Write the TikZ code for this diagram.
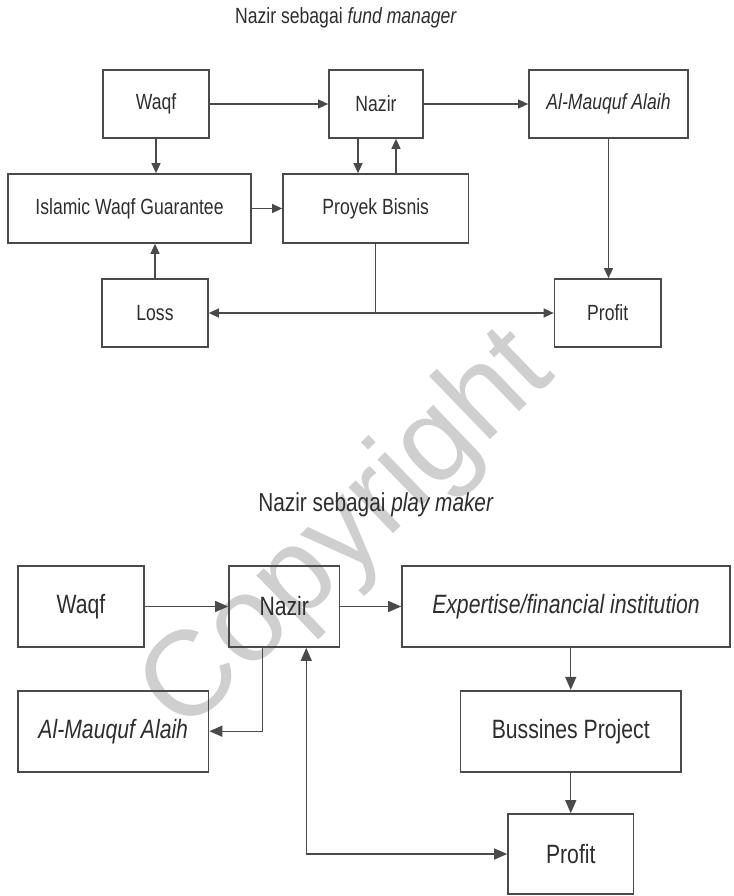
\documentclass[tikz,border=0pt]{standalone}
\usepackage{fontspec}
\setmainfont[FakeStretch=0.8]{Liberation Sans}
\newfontfamily\wmfont{Liberation Sans}
\usetikzlibrary{arrows.meta,calc}
\definecolor{linec}{HTML}{4A4A4A}
\definecolor{txtc}{HTML}{2E2E2E}
\definecolor{wmc}{HTML}{CFCFCF}
\begin{document}
\begin{tikzpicture}[x=1pt,y=-1pt,
  box/.style={draw=linec, line width=1.7pt, inner sep=0pt, text=txtc},
  topbox/.style={box, font=\fontsize{22}{26}\selectfont, minimum height=68pt},
  botbox/.style={box, font=\fontsize{26.5}{30}\selectfont, minimum height=81pt},
  conn/.style={draw=linec, line width=1.3pt},
  arr/.style={conn, -{Triangle[length=10pt,width=9pt]}},
  barr/.style={conn, -{Triangle[length=13pt,width=11pt]}},
  dbarr/.style={conn, {Triangle[length=13pt,width=11pt]}-{Triangle[length=13pt,width=11pt]}},
  ttl/.style={text=txtc, inner sep=0pt}
]
\fill[white] (0,0) rectangle (733,896);
\useasboundingbox (0,0) rectangle (733,896);

% watermark
\node[font=\wmfont\fontsize{121}{121}\selectfont, text=wmc, rotate=44, inner sep=0pt] (wm) at (349,533) {Copyright};

% ---------- top diagram ----------
\node[ttl, font=\fontsize{22}{26}\selectfont] (t1) at (346,18) {Nazir sebagai \textit{fund manager}};
\node[topbox, minimum width=106pt] (waqf1) at (156,104) {Waqf};
\node[topbox, minimum width=94pt] (nazir1) at (376,104) {Nazir};
\node[topbox, minimum width=159pt] (mauquf1) at (608.5,104) {\textit{Al-Mauquf Alaih}};
\node[topbox, minimum width=243pt, minimum height=69pt] (iwg) at (129.5,208.5) {Islamic Waqf Guarantee};
\node[topbox, minimum width=185.5pt, minimum height=69pt] (proyek) at (375.75,208.5) {Proyek Bisnis};
\node[topbox, minimum width=106pt] (loss) at (155,313) {Loss};
\node[topbox, minimum width=106.5pt] (profit1) at (607.75,313) {Profit};

\draw[arr] (waqf1) -- (nazir1);
\draw[arr] (nazir1) -- (mauquf1);
\draw[arr] (waqf1.south) -- (waqf1.south |- iwg.north);
\draw[arr] ([xshift=-18pt]nazir1.south) -- ([xshift=-18pt]nazir1.south |- proyek.north);
\draw[arr] ([xshift=20pt]nazir1.south |- proyek.north) -- ([xshift=20pt]nazir1.south);
\draw[arr] (iwg) -- (proyek);
\draw[arr] (loss.north) -- (loss.north |- iwg.south);
\draw[arr] (mauquf1.south) -- (mauquf1.south |- profit1.north);
\coordinate (j1) at (proyek.south |- loss.east);
\draw[conn] (proyek.south) -- (j1);
\draw[arr] (j1) -- (loss.east);
\draw[arr] (j1) -- (profit1.west);

% ---------- bottom diagram ----------
\node[ttl, font=\fontsize{26}{30}\selectfont] (t2) at (376,505) {Nazir sebagai \textit{play maker}};
\node[botbox, minimum width=126pt] (waqf2) at (81,606.5) {Waqf};
\node[botbox, minimum width=110.5pt] (nazir2) at (284.25,606.5) {Nazir};
\node[botbox, minimum width=328pt] (expert) at (566,606.5) {\textit{Expertise/financial institution}};
\node[botbox, minimum width=190.5pt] (mauquf2) at (113.25,731.2) {\textit{Al-Mauquf Alaih}};
\node[botbox, minimum width=220.5pt] (bussines) at (570.75,731.2) {Bussines Project};
\node[botbox, minimum width=125.5pt, minimum height=80pt] (profit2) at (570.75,854) {Profit};

\draw[barr] (waqf2) -- (nazir2);
\draw[barr] (nazir2) -- (expert);
\draw[barr] ([xshift=-22pt]nazir2.south) |- (mauquf2.east);
\draw[barr] (expert.south -| bussines.north) -- (bussines.north);
\draw[barr] (bussines) -- (profit2);
\draw[dbarr] ([xshift=22pt]nazir2.south) |- (profit2.west);
\end{tikzpicture}
\end{document}
